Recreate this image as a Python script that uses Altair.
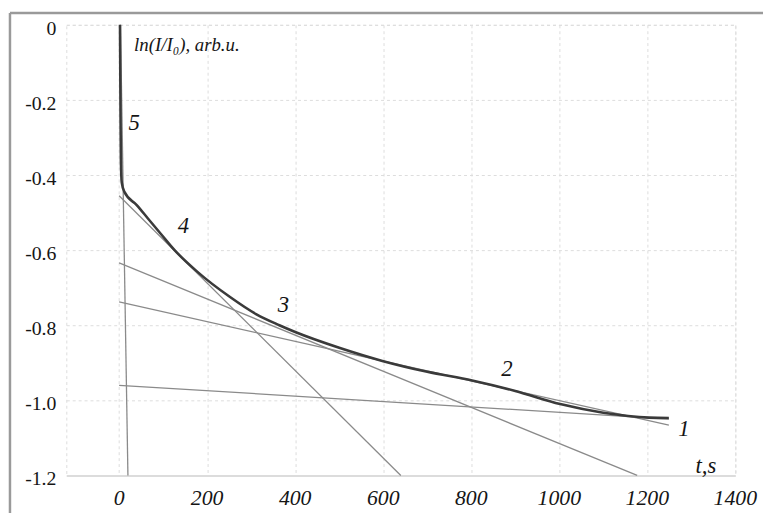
import altair as alt
import pandas as pd

# measured decay curve (thick)
curve_t = [2, 3, 4, 6, 12, 40, 65, 95, 126, 178, 252, 312, 364, 400, 500, 598, 700, 802, 900, 1002, 1100, 1204, 1249]
curve_y = [0.0, -0.2, -0.36, -0.42, -0.445, -0.48, -0.515, -0.557, -0.60, -0.658, -0.725, -0.771, -0.80, -0.818, -0.86, -0.895, -0.924, -0.947, -0.975, -1.01, -1.033, -1.046, -1.047]

# fitted straight lines 1..5 (two end points each)
fit_names = ["1", "1", "2", "2", "3", "3", "4", "4", "5", "5"]
fit_t = [0, 1249, 0, 1249, 0, 1177, 0, 640, 3, 20]
fit_y = [-0.96, -1.05, -0.738, -1.066, -0.634, -1.2, -0.455, -1.2, 0.0, -1.2]

# curve number labels
lab_text = ["5", "4", "3", "2", "1"]
lab_t = [34, 146, 373, 881, 1283]
lab_y = [-0.263, -0.537, -0.747, -0.918, -1.076]

x_ticks = [0, 200, 400, 600, 800, 1000, 1200, 1400]
x_tick_labels = ["0", "200", "400", "600", "800", "1000", "1200", "1400"]
y_ticks = [0, -0.2, -0.4, -0.6, -0.8, -1.0, -1.2]
y_tick_labels = ["0", "-0.2", "-0.4", "-0.6", "-0.8", "-1.0", "-1.2"]

curve_df = pd.DataFrame({"t": curve_t, "y": curve_y})
fit_df = pd.DataFrame({"name": fit_names, "t": fit_t, "y": fit_y})
lab_df = pd.DataFrame({"label": lab_text, "t": lab_t, "y": lab_y})
xt_df = pd.DataFrame({"t": x_ticks, "y": [-1.2] * len(x_ticks), "s": x_tick_labels})
yt_df = pd.DataFrame({"t": [-120] * len(y_ticks), "y": y_ticks, "s": y_tick_labels})

xs = alt.Scale(domain=[-120, 1400], nice=False, zero=False)
ys = alt.Scale(domain=[-1.2, 0], nice=False, zero=False)

SERIF = "'Liberation Serif', 'DejaVu Serif', serif"
INK = "#151515"

x_axis = alt.Axis(values=x_ticks, title=None, ticks=False, labels=False, domain=True,
                  domainColor="#dcdcdc", domainWidth=2, grid=True, gridColor="#dcdcdc",
                  gridDash=[3, 3])
y_axis = alt.Axis(values=y_ticks, title=None, ticks=False, labels=False, domain=False, grid=True,
                  gridColor="#dcdcdc", gridDash=[3, 3])

fits = alt.Chart(fit_df).mark_line(color="#8a8a8a", strokeWidth=1.3).encode(
    x=alt.X("t:Q", scale=xs, axis=x_axis),
    y=alt.Y("y:Q", scale=ys, axis=y_axis),
    detail="name:N",
)

curve = alt.Chart(curve_df).mark_line(color="#3a3a3a", strokeWidth=2.6, interpolate="monotone").encode(
    x=alt.X("t:Q", scale=xs, axis=x_axis),
    y=alt.Y("y:Q", scale=ys, axis=y_axis),
)

xtl = alt.Chart(xt_df).mark_text(font=SERIF, fontSize=22, fontStyle="italic", color=INK,
                                 baseline="middle", dy=23).encode(
    x=alt.X("t:Q", scale=xs), y=alt.Y("y:Q", scale=ys), text="s:N")

ytl = alt.Chart(yt_df).mark_text(font=SERIF, fontSize=20, color=INK, align="right",
                                 baseline="middle", dx=-10, dy=4).encode(
    x=alt.X("t:Q", scale=xs), y=alt.Y("y:Q", scale=ys), text="s:N")

labels = alt.Chart(lab_df).mark_text(font=SERIF, fontSize=23, fontStyle="italic", color=INK).encode(
    x=alt.X("t:Q", scale=xs),
    y=alt.Y("y:Q", scale=ys),
    text="label:N",
)

ylabel = alt.Chart(pd.DataFrame({"t": [34], "y": [-0.055], "s": ["ln(I/I\u2080), arb.u."]})).mark_text(
    font=SERIF, fontSize=19, fontStyle="italic", color=INK, align="left"
).encode(x=alt.X("t:Q", scale=xs), y=alt.Y("y:Q", scale=ys), text="s:N")

xlabel = alt.Chart(pd.DataFrame({"t": [1333], "y": [-1.174], "s": ["t,s"]})).mark_text(
    font=SERIF, fontSize=23, fontStyle="italic", color=INK
).encode(x=alt.X("t:Q", scale=xs), y=alt.Y("y:Q", scale=ys), text="s:N")

frame_top = alt.Chart(pd.DataFrame({"a": [0]})).mark_rule(color="#9a9a9a", strokeWidth=2.5).encode(
    x=alt.value(-57), x2=alt.value(712), y=alt.value(-12))
frame_left = alt.Chart(pd.DataFrame({"a": [0]})).mark_rule(color="#9a9a9a", strokeWidth=2.5).encode(
    x=alt.value(-57), y=alt.value(-12), y2=alt.value(499))

chart = alt.layer(fits, curve, xtl, ytl, labels, ylabel, xlabel, frame_top, frame_left).properties(
    width=677, height=456,
    autosize=alt.AutoSizeParams(type="none"),
    padding={"left": 59, "top": 14, "right": 28, "bottom": 35},
    background="white",
).configure_view(stroke="#dcdcdc", strokeDash=[3, 3])

chart.save("out.html", embed_options={"renderer": "svg", "actions": False})
